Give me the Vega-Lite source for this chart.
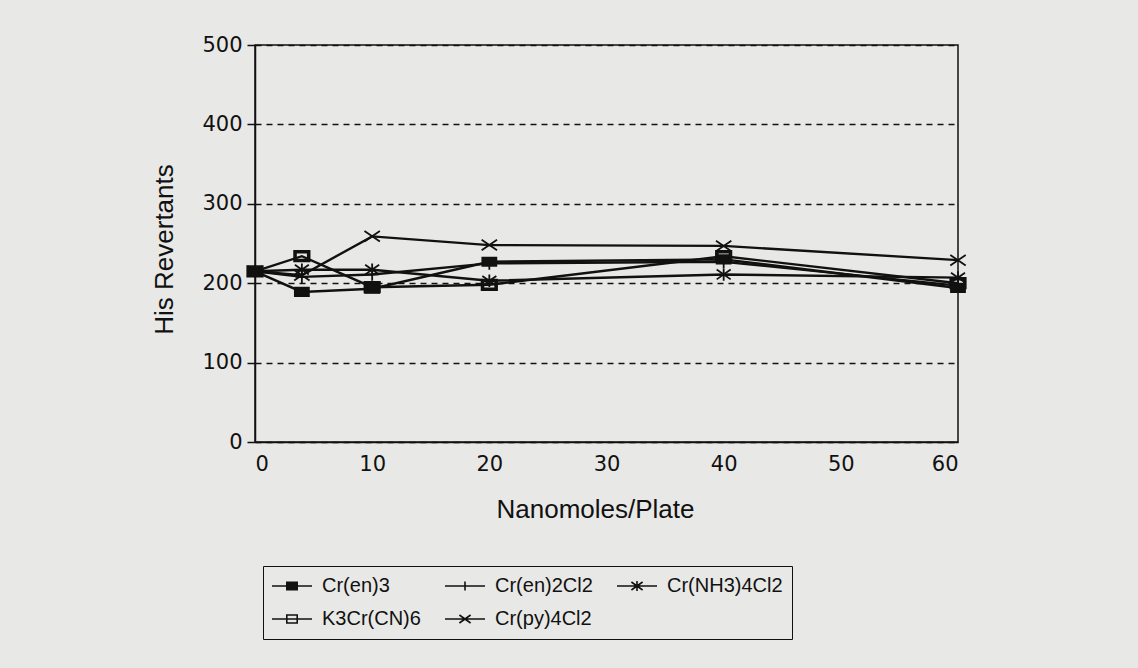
{
  "$schema": "https://vega.github.io/schema/vega-lite/v6.json",
  "autosize": "none",
  "width": 703,
  "height": 397,
  "padding": {"left": 255, "top": 45, "right": 180, "bottom": 226},
  "background": "#e8e8e6",
  "config": {
    "view": {"stroke": "#111", "strokeWidth": 1.5},
    "axis": {
      "labelFont": "DejaVu Sans", "labelFontSize": 21, "labelColor": "#111",
      "titleFont": "Liberation Sans", "titleFontSize": 26, "titleFontWeight": "normal", "titleColor": "#111",
      "domainColor": "#111", "domainWidth": 1.5, "tickColor": "#111", "tickWidth": 1.5
    }
  },
  "data": {
    "values": [
      {"dose": 0, "rev": 215, "series": "Cr(en)3"},
      {"dose": 4, "rev": 189, "series": "Cr(en)3"},
      {"dose": 10, "rev": 193, "series": "Cr(en)3"},
      {"dose": 20, "rev": 227, "series": "Cr(en)3"},
      {"dose": 40, "rev": 230, "series": "Cr(en)3"},
      {"dose": 60, "rev": 194, "series": "Cr(en)3"},
      {"dose": 0, "rev": 215, "series": "K3Cr(CN)6"},
      {"dose": 4, "rev": 234, "series": "K3Cr(CN)6"},
      {"dose": 10, "rev": 195, "series": "K3Cr(CN)6"},
      {"dose": 20, "rev": 198, "series": "K3Cr(CN)6"},
      {"dose": 40, "rev": 234, "series": "K3Cr(CN)6"},
      {"dose": 60, "rev": 200, "series": "K3Cr(CN)6"},
      {"dose": 0, "rev": 215, "series": "Cr(en)2Cl2"},
      {"dose": 4, "rev": 208, "series": "Cr(en)2Cl2"},
      {"dose": 10, "rev": 211, "series": "Cr(en)2Cl2"},
      {"dose": 20, "rev": 225, "series": "Cr(en)2Cl2"},
      {"dose": 40, "rev": 227, "series": "Cr(en)2Cl2"},
      {"dose": 60, "rev": 197, "series": "Cr(en)2Cl2"},
      {"dose": 0, "rev": 215, "series": "Cr(NH3)4Cl2"},
      {"dose": 4, "rev": 217, "series": "Cr(NH3)4Cl2"},
      {"dose": 10, "rev": 217, "series": "Cr(NH3)4Cl2"},
      {"dose": 20, "rev": 203, "series": "Cr(NH3)4Cl2"},
      {"dose": 40, "rev": 211, "series": "Cr(NH3)4Cl2"},
      {"dose": 60, "rev": 207, "series": "Cr(NH3)4Cl2"},
      {"dose": 0, "rev": 215, "series": "Cr(py)4Cl2"},
      {"dose": 4, "rev": 210, "series": "Cr(py)4Cl2"},
      {"dose": 10, "rev": 259, "series": "Cr(py)4Cl2"},
      {"dose": 20, "rev": 248, "series": "Cr(py)4Cl2"},
      {"dose": 40, "rev": 247, "series": "Cr(py)4Cl2"},
      {"dose": 60, "rev": 229, "series": "Cr(py)4Cl2"}
    ]
  },
  "encoding": {
    "x": {
      "field": "dose", "type": "quantitative",
      "scale": {"domain": [0, 60], "nice": false},
      "axis": {
        "title": "Nanomoles/Plate", "values": [0, 10, 20, 30, 40, 50, 60],
        "grid": false, "ticks": false, "labelPadding": 11,
        "titleX": 340, "titleY": 75, "titleBaseline": "alphabetic", "titleAnchor": "middle", "titleAlign": "center"
      }
    },
    "y": {
      "field": "rev", "type": "quantitative",
      "scale": {"domain": [0, 500], "nice": false},
      "axis": {
        "title": "His Revertants", "values": [0, 100, 200, 300, 400, 500],
        "grid": true, "gridColor": "#111", "gridDash": [6, 5], "gridWidth": 1.5, "gridOpacity": 1,
        "tickSize": 8, "labelPadding": 5,
        "titleX": -83, "titleY": 204, "titleBaseline": "alphabetic", "titleAlign": "center", "titleAngle": -90
      }
    }
  },
  "layer": [
    {
      "mark": {"type": "line", "color": "#111", "strokeWidth": 2.4},
      "encoding": {"detail": {"field": "series", "type": "nominal"}}
    },
    {
      "mark": {"type": "point", "filled": true, "fill": "#111", "stroke": "#111", "strokeWidth": 1.8, "size": 196, "opacity": 1},
      "encoding": {
        "shape": {
          "field": "series", "type": "nominal",
          "scale": {
            "domain": ["Cr(en)3", "Cr(en)2Cl2", "Cr(NH3)4Cl2", "K3Cr(CN)6", "Cr(py)4Cl2"],
            "range": [
              "M-1,-0.6H1V0.6H-1Z",
              "M-0.9,0H0.9M0,-0.9V0.9",
              "M-1,-0.7L1,0.7M-1,0.7L1,-0.7M0,-0.9V0.9",
              "M-1.1,-0.75H1.1V0.75H-1.1Z M-0.85,-0.5V0.5H0.85V-0.5Z",
              "M-1.1,-0.75L1.1,0.75M-1.1,0.75L1.1,-0.75"
            ]
          },
          "legend": null
        }
      }
    },
    {
      "transform": [{"filter": "datum.rev < 0"}],
      "mark": {"type": "point", "filled": true, "fill": "#111", "opacity": 1},
      "encoding": {
        "shape": {
          "field": "series", "type": "nominal",
          "scale": {
            "domain": ["Cr(en)3", "Cr(en)2Cl2", "Cr(NH3)4Cl2", "K3Cr(CN)6", "Cr(py)4Cl2"],
            "range": [
              "M-1,-0.04H1V0.04H-1Z M-0.3,-0.22H0.3V0.22H-0.3Z",
              "M-1,-0.04V0.04H1V-0.04Z M-0.04,-0.22V0.22H0.04V-0.22Z",
              "M-1,-0.04V0.04H1V-0.04Z M-0.303,-0.167L0.257,0.233L0.303,0.167L-0.257,-0.233Z M-0.257,0.233L0.303,-0.167L0.257,-0.233L-0.303,0.167Z M-0.04,-0.25V0.25H0.04V-0.25Z",
              "M-1,-0.04H1V0.04H-1Z M-0.3,-0.24H0.3V0.24H-0.3Z M-0.22,-0.16V0.16H0.22V-0.16Z",
              "M-1,-0.04V0.04H1V-0.04Z M-0.303,-0.167L0.257,0.233L0.303,0.167L-0.257,-0.233Z M-0.257,0.233L0.303,-0.167L0.257,-0.233L-0.303,0.167Z"
            ]
          },
          "legend": {
            "title": null, "orient": "none", "legendX": 8, "legendY": 521,
            "direction": "horizontal", "columns": 3, "strokeColor": "#111", "padding": 9,
            "rowPadding": 11, "columnPadding": 24,
            "labelFont": "Liberation Sans", "labelFontSize": 20, "labelColor": "#111", "labelOffset": 10,
            "labelExpr": "datum.value == 'Cr(NH3)4Cl2' ? datum.value + '\u2003\u2003\u2003' : datum.value",
            "labelLimit": 300,
            "symbolSize": 1600, "clipHeight": 22,
            "symbolFillColor": "#111", "symbolStrokeWidth": 0, "symbolOpacity": 1
          }
        }
      }
    }
  ],
  "resolve": {"scale": {"shape": "independent"}, "legend": {"shape": "independent"}}
}
